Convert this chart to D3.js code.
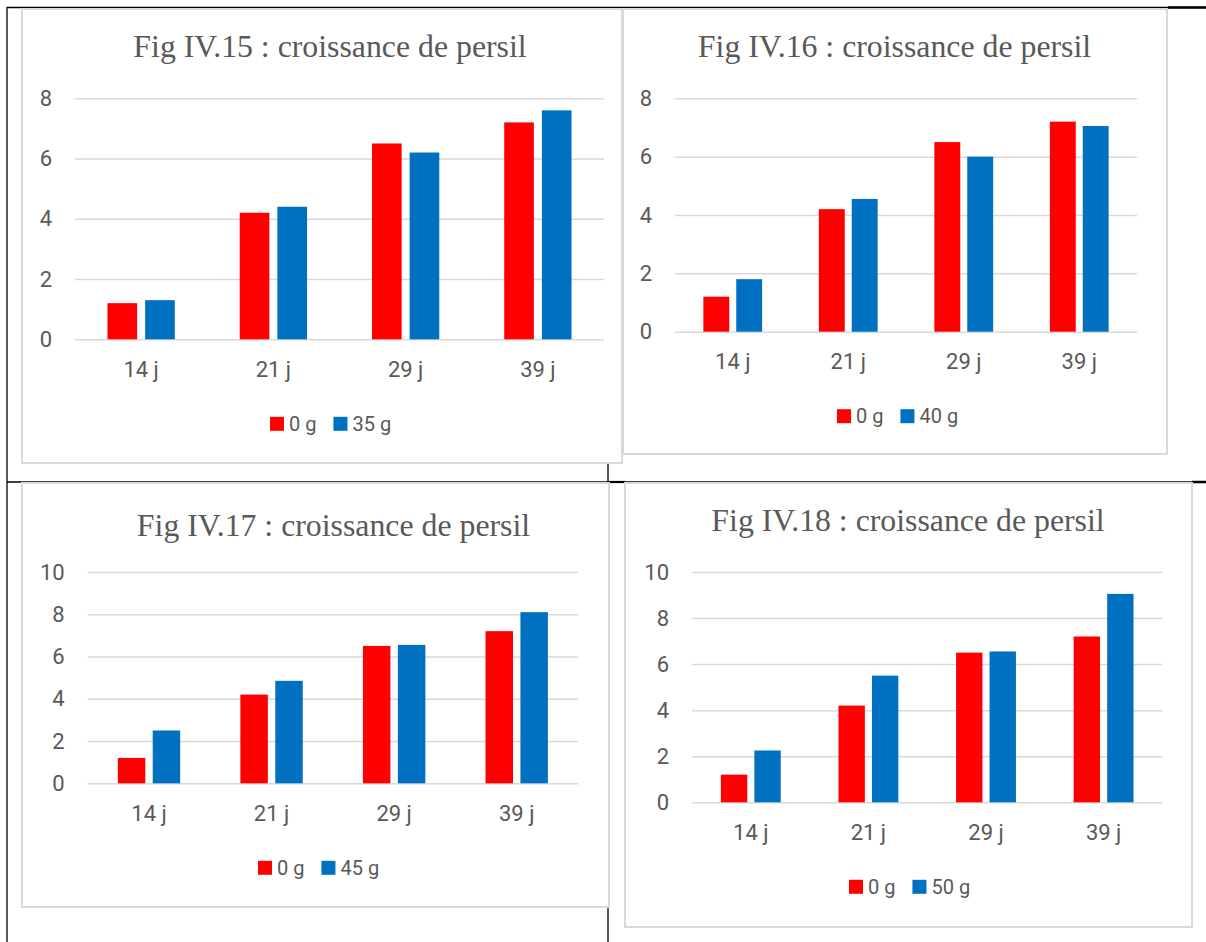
<!DOCTYPE html>
<html>
<head>
<meta charset="utf-8">
<script src="https://cdn.jsdelivr.net/npm/d3@7"></script>
<style>
  body { margin: 0; background: #fff; }
  svg { display: block; }
</style>
</head>
<body>
<svg id="page" width="1206" height="942"></svg>
<script>
// data
const categories = ['14 j', '21 j', '29 j', '39 j'];
const temoin = [1.2, 4.2, 6.5, 7.2];          // 0 g, same in every figure
const dose35 = [1.3, 4.4, 6.2, 7.6];
const dose40 = [1.8, 4.55, 6.0, 7.05];
const dose45 = [2.5, 4.85, 6.55, 8.1];
const dose50 = [2.25, 5.5, 6.55, 9.05];
const doseNames = ['35 g', '40 g', '45 g', '50 g'];
const figTitles = [
  'Fig IV.15 : croissance de persil',
  'Fig IV.16 : croissance de persil',
  'Fig IV.17 : croissance de persil',
  'Fig IV.18 : croissance de persil'
];
const yMaxes = [8, 8, 10, 10];
const yStep = 2;

const colors = {red: '#ff0000', blue: '#0070c0', text: '#595959', grid: '#d9d9d9', frame: '#d9d9d9'};

// where each chart sits on the page
const panels = [
  {values: dose35, frame: [22, 9, 622, 463], plot: [75, 98.3, 604, 339.3], titleX: 330, titleY: 57.3, legendX: 270},
  {values: dose40, frame: [623, 9, 1167, 454], plot: [675, 98.3, 1137, 331.7], titleX: 894.5, titleY: 57.3, legendX: 837},
  {values: dose45, frame: [22, 483, 609, 907], plot: [87.7, 572, 578, 783.3], titleX: 333.5, titleY: 535.7, legendX: 258},
  {values: dose50, frame: [625, 483, 1192, 927], plot: [692, 572, 1162.4, 802.3], titleX: 908, titleY: 531, legendX: 849}
];

// excel-like spacing: gap width 219 %, overlap -27 %
const groupShare = 2.27 / 4.46;

const svg = d3.select('#page');

// table lines of the document behind the charts
const table = svg.append('g').attr('stroke', '#000').attr('stroke-width', 1.3);
table.append('line').attr('x1', 7).attr('x2', 1206).attr('y1', 7.5).attr('y2', 7.5);
table.append('line').attr('x1', 1168).attr('x2', 1206).attr('y1', 7.5).attr('y2', 7.5).attr('stroke-width', 2.5);
table.append('line').attr('x1', 7).attr('x2', 7).attr('y1', 7).attr('y2', 942);
table.append('line').attr('x1', 7).attr('x2', 1206).attr('y1', 482).attr('y2', 482);
table.append('line').attr('x1', 1192).attr('x2', 1206).attr('y1', 482).attr('y2', 482).attr('stroke-width', 2.5);
table.append('line').attr('x1', 608).attr('x2', 625).attr('y1', 482).attr('y2', 482).attr('stroke-width', 2.2);
table.append('line').attr('x1', 608).attr('x2', 608).attr('y1', 463).attr('y2', 482);
table.append('line').attr('x1', 608).attr('x2', 608).attr('y1', 907).attr('y2', 942);

panels.forEach((p, i) => {
  const g = svg.append('g');
  const [fx0, fy0, fx1, fy1] = p.frame;
  const [px0, py0, px1, py1] = p.plot;

  g.append('rect')
    .attr('x', fx0).attr('y', fy0)
    .attr('width', fx1 - fx0).attr('height', fy1 - fy0)
    .attr('fill', '#fff')
    .attr('stroke', colors.frame)
    .attr('stroke-width', 2);

  g.append('text')
    .attr('x', p.titleX).attr('y', p.titleY)
    .attr('text-anchor', 'middle')
    .style('font-family', '"Liberation Serif", "Times New Roman", serif')
    .style('font-size', '31.8px')
    .attr('fill', colors.text)
    .text(figTitles[i]);

  const y = d3.scaleLinear().domain([0, yMaxes[i]]).range([py1, py0]);
  const pad = 1 - groupShare;
  const x = d3.scaleBand().domain(categories).range([px0, px1])
    .paddingInner(pad).paddingOuter(pad / 2);
  const xs = d3.scaleBand().domain(['0 g', doseNames[i]]).range([0, x.bandwidth()]).paddingInner(0.2126);

  const yAxis = g.append('g')
    .attr('transform', 'translate(' + px0 + ',0)')
    .call(d3.axisLeft(y).tickValues(d3.range(0, yMaxes[i] + 1, yStep)).tickSize(-(px1 - px0)).tickPadding(23));
  yAxis.select('.domain').remove();
  yAxis.selectAll('line').attr('stroke', colors.grid).attr('stroke-width', 1.5);
  yAxis.selectAll('text')
    .attr('fill', colors.text)
    .style('font-family', 'Roboto, sans-serif')
    .style('font-size', '22px');

  const xAxis = g.append('g')
    .attr('transform', 'translate(0,' + py1 + ')')
    .call(d3.axisBottom(x).tickSize(0).tickPadding(22));
  xAxis.select('.domain').remove();
  xAxis.selectAll('text')
    .attr('fill', colors.text)
    .style('font-family', 'Roboto, sans-serif')
    .style('font-size', '22px');

  const rows = categories.map((c, k) => ({cat: c, pairs: [
    {key: '0 g', value: temoin[k], color: colors.red},
    {key: doseNames[i], value: p.values[k], color: colors.blue}
  ]}));

  g.append('g').selectAll('g')
    .data(rows)
    .join('g')
    .attr('transform', d => 'translate(' + x(d.cat) + ',0)')
    .selectAll('rect')
    .data(d => d.pairs)
    .join('rect')
    .attr('x', d => xs(d.key))
    .attr('width', xs.bandwidth())
    .attr('y', d => y(d.value))
    .attr('height', d => y(0) - y(d.value))
    .attr('fill', d => d.color);

  // legend under the axis
  const legendY = py1 + 84.5;
  const legend = g.append('g').attr('transform', 'translate(' + p.legendX + ',' + legendY + ')');
  let lx = 0;
  [{key: '0 g', color: colors.red}, {key: doseNames[i], color: colors.blue}].forEach(item => {
    legend.append('rect')
      .attr('x', lx).attr('y', -7)
      .attr('width', 14).attr('height', 14)
      .attr('fill', item.color);
    const t = legend.append('text')
      .attr('x', lx + 19).attr('y', 0)
      .attr('dy', '0.35em')
      .attr('fill', colors.text)
      .style('font-family', 'Roboto, sans-serif')
      .style('font-size', '20px')
      .text(item.key);
    lx += 19 + t.node().getComputedTextLength() + 17;
  });
});
</script>
</body>
</html>
